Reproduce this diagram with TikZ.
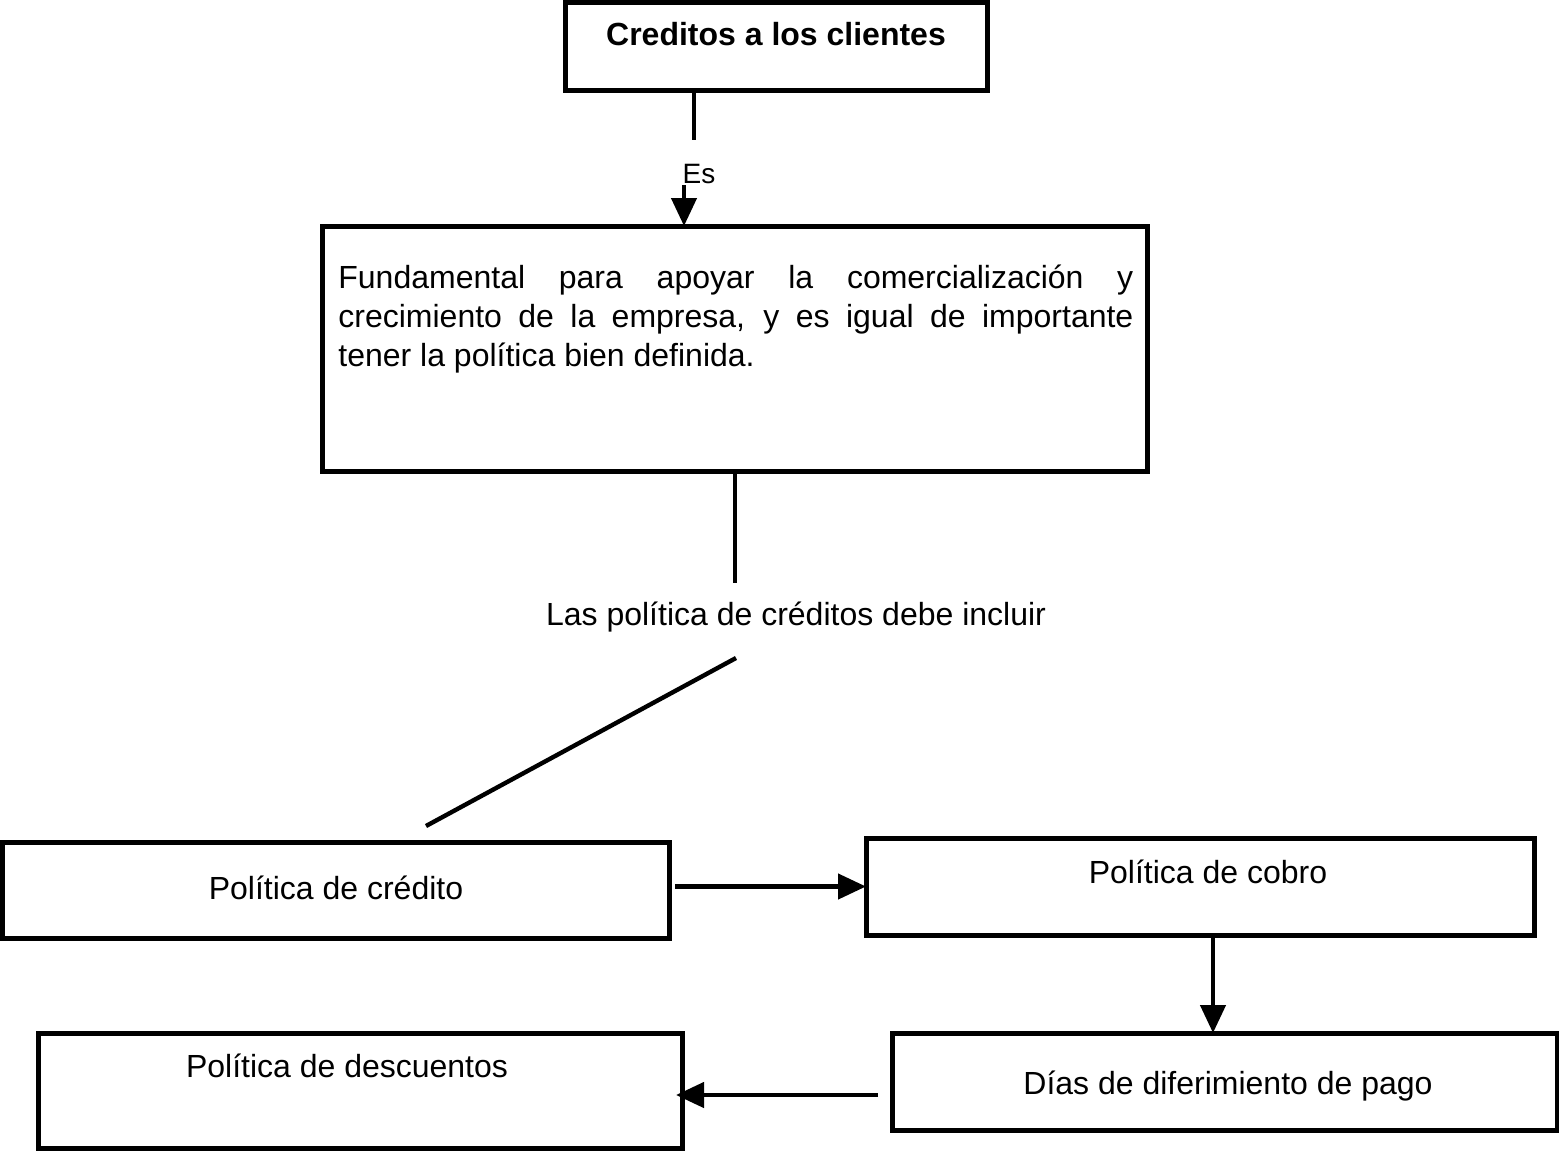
\documentclass[tikz,border=0pt]{standalone}
\usepackage{fontspec}
\setmainfont{Liberation Sans}
\usetikzlibrary{arrows.meta,positioning}
\begin{document}
\begin{tikzpicture}[x=0.5pt, y=-0.5pt, font=\fontsize{16}{19.5}\selectfont, line join=miter, >={Triangle[width=12.5pt,length=14pt]},
	caja/.style={draw, line width=2.5pt, anchor=north west, inner sep=0pt, outer sep=0pt},
	texto/.style={anchor=base, inner sep=0pt},
	conector/.style={line width=2.2pt}]
	\useasboundingbox (0,0) rectangle (1559,1152);
	% cajas
	\node[caja, minimum width=211pt, minimum height=44pt] (clientes) at (565,2) {};
	\node[caja, minimum width=412.5pt, minimum height=122.5pt] (fundamental) at (322,226) {};
	\node[caja, minimum width=333.5pt, minimum height=48pt] (credito) at (2,842) {};
	\node[caja, minimum width=334pt, minimum height=48.5pt] (cobro) at (866,838) {};
	\node[caja, minimum width=332.5pt, minimum height=48.5pt] (dias) at (892,1033) {};
	\node[caja, minimum width=322pt, minimum height=57.5pt] (descuentos) at (38,1033) {};
	% textos
	\node[texto, font=\fontsize{16}{19.5}\selectfont\bfseries] (tclientes) at (776,45) {Creditos a los clientes};
	\node[texto, font=\fontsize{14}{17}\selectfont] (es) at (699,183) {Es};
	\node[anchor=base west, inner sep=0pt, text width=397.5pt, align=justify] (tfundamental) at (338,288)
		{Fundamental para apoyar la comercialización y\linebreak crecimiento de la empresa, y es igual de importante\linebreak tener la política bien definida.};
	\node[texto] (incluir) at (796,625) {Las política de créditos debe incluir};
	\node[texto] (tcredito) at (336,899) {Política de crédito};
	\node[texto] (tcobro) at (1208,883) {Política de cobro};
	\node[texto] (tdias) at (1228,1094) {Días de diferimiento de pago};
	\node[texto] (tdescuentos) at (347,1077) {Política de descuentos};
	% conectores
	\coordinate (c1) at (694,140);
	\coordinate (c2) at (684,185);
	\coordinate (c3) at (735,583);
	\coordinate (d1) at (736,658);
	\coordinate (d2) at (426,826);
	\coordinate (c4) at (1213,0);
	\coordinate (c5) at (0,1095);
	\draw[conector] (clientes.south -| c1) -- (c1);
	\draw[conector,->] (c2) -- (fundamental.north -| c2);
	\draw[conector] (fundamental.south -| c3) -- (c3);
	\draw[conector] (d1) -- (d2);
	\draw[conector,->] ([xshift=3pt]credito.east |- cobro.west) -- (cobro.west);
	\draw[conector,->] (cobro.south -| c4) -- (dias.north -| c4);
	\draw[conector,->] ([xshift=-7pt]dias.west |- c5) -- ([xshift=-3pt]descuentos.east |- c5);
\end{tikzpicture}
\end{document}
